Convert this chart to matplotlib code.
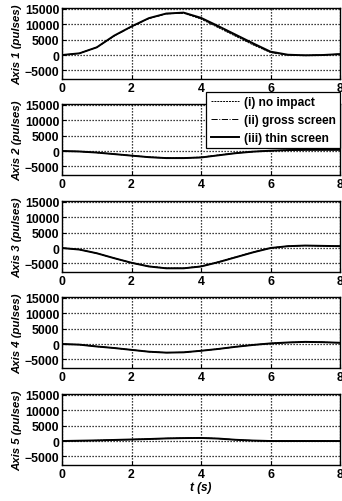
import matplotlib
matplotlib.use("Agg")
import matplotlib.pyplot as plt

plt.rcParams.update({"font.family": "Liberation Sans", "font.weight": "bold",
                     "font.size": 8})

# time samples (s)
T = [0, 0.5, 1, 1.5, 2, 2.5, 3, 3.5, 4, 4.5, 5, 5.5, 6, 6.5, 7, 7.5, 8]

# joint trajectories (pulses) for the three cases
AX1_NOIMP = [0, 550, 2500, 6200, 9200, 11900, 13400, 13600, 11700, 8900, 6100, 3300, 800, 0, -100, 0, 300]
AX1_GROSS = [0, 550, 2500, 6200, 9200, 11900, 13400, 13700, 11900, 9100, 6300, 3500, 900, 0, -100, 0, 300]
AX1_THIN = [0, 550, 2500, 6300, 9300, 12000, 13500, 13800, 12100, 9400, 6600, 3800, 1100, 100, -100, 0, 300]

AX2_NOIMP = [0, -150, -500, -1000, -1500, -1900, -2200, -2200, -2000, -1300, -600, -200, 100, 300, 400, 400, 400]
AX2_GROSS = [0, -150, -500, -1000, -1500, -2000, -2300, -2300, -2100, -1400, -700, -200, 100, 300, 400, 400, 400]
AX2_THIN = [0, -150, -500, -1000, -1500, -2000, -2300, -2300, -2100, -1400, -700, -200, 100, 300, 400, 400, 400]

AX3_NOIMP = [0, -500, -1700, -3300, -4800, -5900, -6500, -6500, -5900, -4500, -2900, -1300, 0, 600, 800, 700, 600]
AX3_GROSS = [0, -500, -1700, -3300, -4800, -6000, -6600, -6600, -6000, -4600, -3000, -1400, 0, 600, 800, 700, 600]
AX3_THIN = [0, -500, -1700, -3300, -4800, -6000, -6600, -6600, -6000, -4600, -3000, -1400, 0, 600, 800, 700, 600]

AX4_NOIMP = [0, -200, -800, -1300, -1900, -2500, -2800, -2700, -2200, -1600, -900, -300, 200, 500, 700, 600, 400]
AX4_GROSS = [0, -200, -800, -1300, -1900, -2500, -2800, -2700, -2200, -1600, -900, -300, 200, 500, 700, 600, 400]
AX4_THIN = [0, -200, -800, -1300, -1900, -2500, -2800, -2700, -2200, -1600, -900, -300, 200, 500, 700, 600, 400]

AX5_NOIMP = [0, 100, 200, 350, 500, 650, 850, 950, 1000, 800, 400, 150, 0, 0, 0, 0, 0]
AX5_GROSS = [0, 100, 200, 350, 500, 650, 850, 950, 1000, 800, 400, 150, 0, 0, 0, 0, 0]
AX5_THIN = [0, 100, 200, 350, 500, 650, 850, 950, 1000, 800, 400, 150, 0, 0, 0, 0, 0]

PANELS = [
    ("Axis 1 (pulses)", AX1_NOIMP, AX1_GROSS, AX1_THIN),
    ("Axis 2 (pulses)", AX2_NOIMP, AX2_GROSS, AX2_THIN),
    ("Axis 3 (pulses)", AX3_NOIMP, AX3_GROSS, AX3_THIN),
    ("Axis 4 (pulses)", AX4_NOIMP, AX4_GROSS, AX4_THIN),
    ("Axis 5 (pulses)", AX5_NOIMP, AX5_GROSS, AX5_THIN),
]
LABELS = ["(i) no impact", "(ii) gross screen", "(iii) thin screen"]
YTICKS = [-5000, 0, 5000, 10000, 15000]
XTICKS = [0, 2, 4, 6, 8]

W, H = 342, 502
fig = plt.figure(figsize=(W / 100, H / 100), dpi=100)

left, right = 62, 340
tops = [9, 105, 202, 298, 395]
ph = 71

axes = []
for (ylab, a, b, c), top in zip(PANELS, tops):
    ax = fig.add_axes([left / W, 1 - (top + ph) / H, (right - left) / W, ph / H])
    la, = ax.plot(T, a, color="black", ls=(0, (2, 1)), lw=0.7)
    lb, = ax.plot(T, b, color="black", ls="-.", lw=0.7)
    lc, = ax.plot(T, c, color="black", ls="-", lw=1.4)
    ax.set_xlim(0, 8)
    ax.set_ylim(-7800, 15300)
    ax.set_xticks(XTICKS)
    ax.set_yticks(YTICKS)
    ax.tick_params(direction="in", length=3, width=0.8, labelsize=8.8, pad=2)
    for lbl in ax.get_xticklabels() + ax.get_yticklabels():
        lbl.set_fontweight("bold")
    ax.grid(True, color="black", ls=(0, (1, 1.4)), lw=0.9)
    for s in ax.spines.values():
        s.set_linewidth(1.0)
        s.set_color("black")
    ax.set_ylabel(ylab, fontstyle="italic", fontweight="bold", fontsize=8.2, labelpad=2)
    axes.append((ax, la, lb, lc))

ax2, la, lb, lc = axes[1]
leg = ax2.legend([la, lb, lc], LABELS, loc="upper right",
                 bbox_to_anchor=(1.0, 1.0 + 12 / ph), fontsize=8.6,
                 frameon=True, fancybox=False, framealpha=1, edgecolor="black",
                 handlelength=2.4, handletextpad=0.4, borderpad=0.35,
                 labelspacing=0.5, borderaxespad=0)
leg.get_frame().set_linewidth(0.9)

axes[-1][0].set_xlabel("t (s)", fontstyle="italic", fontweight="bold", fontsize=8.5, labelpad=1)

fig.savefig("out.png", dpi=100)
